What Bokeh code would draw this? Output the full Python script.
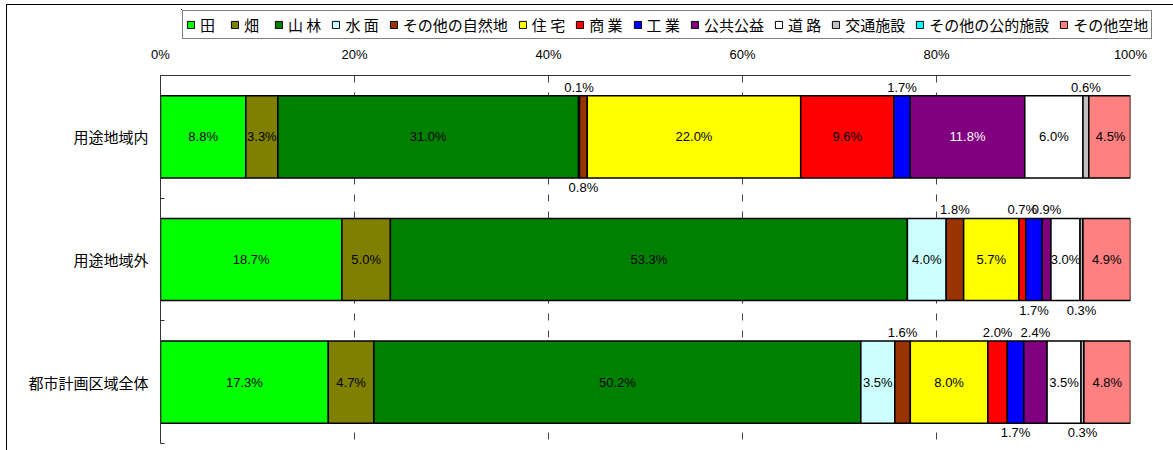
import numpy as np
from bokeh.plotting import figure
from bokeh.layouts import column
from bokeh.models import (ColumnDataSource, Range1d, FixedTicker, PrintfTickFormatter,
                          Legend, LegendItem)
from bokeh.core.properties import value
from bokeh.embed import file_html
from bokeh.resources import INLINE

# ---------------- data ----------------
rows = ["用途地域内", "用途地域外", "都市計画区域全体"]
categories = ["田", "畑", "山 林", "水 面", "その他の自然地", "住 宅", "商 業", "工 業",
              "公共公益", "道 路", "交通施設", "その他の公的施設", "その他空地"]
vals_inside = [8.8, 3.3, 31.0, 0.1, 0.8, 22.0, 9.6, 1.7, 11.8, 6.0, 0.6, 0.0, 4.5]
vals_outside = [18.7, 5.0, 53.3, 4.0, 1.8, 5.7, 0.7, 1.7, 0.9, 3.0, 0.3, 0.0, 4.9]
vals_total = [17.3, 4.7, 50.2, 3.5, 1.6, 8.0, 2.0, 1.7, 2.4, 3.5, 0.3, 0.0, 4.8]
x_ticks = [0, 20, 40, 60, 80, 100]

# ---------------- styles ----------------
colors = ["#00FF00", "#808000", "#008000", "#CCFFFF", "#993300", "#FFFF00", "#FF0000",
          "#0000FF", "#800080", "#FFFFFF", "#C0C0C0", "#00FFFF", "#FF8080"]
label_colors = ["black"] * len(categories)
label_colors[categories.index("公共公益")] = "white"
placements = [
    ["in", "in", "in", "above", "below", "in", "in", "above", "in", "in", "above", "none", "in"],
    ["in", "in", "in", "in", "above", "in", "above", "below", "above", "in", "below", "none", "in"],
    ["in", "in", "in", "in", "above", "in", "above", "below", "above", "in", "below", "none", "in"],
]
BAR_H = 0.67
NUM_FONT = "Liberation Sans"
JP_FONT = "Noto Sans CJK JP"
W = 1166

data = np.array([vals_inside, vals_outside, vals_total])
right_edges = np.cumsum(data, axis=1)
left_edges = right_edges - data
ypos = np.arange(len(rows)) + 0.5

p = figure(width=W, height=407, x_range=Range1d(0, 100), y_range=Range1d(len(rows), 0),
           x_axis_location="above", output_backend="svg", toolbar_location=None,
           min_border_left=153, min_border_right=43, min_border_top=32,
           min_border_bottom=7)
p.outline_line_color = None
p.frame_align = False

# x axis (top)
p.xaxis.ticker = FixedTicker(ticks=x_ticks)
p.xaxis.formatter = PrintfTickFormatter(format="%d%%")
p.xaxis.major_label_text_font = NUM_FONT
p.xaxis.major_label_text_font_size = "13px"
p.xaxis.major_label_text_color = "#000000"
p.xaxis.major_tick_in = 0
p.xaxis.major_tick_out = 0
p.xaxis.minor_tick_line_color = None
p.xaxis.axis_line_color = "#333333"
p.xaxis.major_label_standoff = 14

p.xgrid.ticker = FixedTicker(ticks=x_ticks)
p.xgrid.grid_line_color = "#444444"
p.xgrid.grid_line_dash = "7 10"
p.xgrid.grid_line_width = 1
p.ygrid.visible = False

# y axis (left)
p.yaxis.ticker = FixedTicker(ticks=list(ypos), minor_ticks=list(range(len(rows) + 1)))
p.yaxis.major_label_overrides = {float(y): r for y, r in zip(ypos, rows)}
p.yaxis.major_label_text_font = JP_FONT
p.yaxis.major_label_text_font_size = "15px"
p.yaxis.major_label_text_color = "#000000"
p.yaxis.major_tick_in = 0
p.yaxis.major_tick_out = 0
p.yaxis.minor_tick_in = 4
p.yaxis.minor_tick_out = 0
p.yaxis.minor_tick_line_color = "#333333"
p.yaxis.axis_line_color = "#333333"
p.yaxis.major_label_standoff = 12

# bars
for j, cat in enumerate(categories):
    src = ColumnDataSource(dict(y=ypos, left=left_edges[:, j], right=right_edges[:, j]))
    p.hbar(y="y", left="left", right="right", height=BAR_H, source=src,
           fill_color=colors[j], line_color="black", line_width=1.5)

# labels
groups = {"in": dict(x=[], y=[], t=[], c=[]),
          "above": dict(x=[], y=[], t=[], c=[]),
          "below": dict(x=[], y=[], t=[], c=[])}
for i in range(len(rows)):
    for j in range(len(categories)):
        v = data[i, j]
        pl = placements[i][j]
        if v <= 0 or pl == "none":
            continue
        g = groups[pl]
        g["x"].append((left_edges[i, j] + right_edges[i, j]) / 2)
        if pl == "in":
            g["y"].append(ypos[i])
            g["c"].append(label_colors[j])
        elif pl == "above":
            g["y"].append(ypos[i] - BAR_H / 2)
            g["c"].append("black")
        else:
            g["y"].append(ypos[i] + BAR_H / 2)
            g["c"].append("black")
        g["t"].append(f"{v:.1f}%")

baselines = {"in": ("middle", 0), "above": ("bottom", -1), "below": ("top", 2)}
for key, g in groups.items():
    bl, off = baselines[key]
    p.text(x="x", y="y", text="t", text_color="c", source=ColumnDataSource(g),
           text_align="center", text_baseline=bl, y_offset=off,
           text_font=value(NUM_FONT), text_font_size="13px")

# legend strip (separate small figure, not frame-aligned with the main one)
lf = figure(width=W, height=38, x_range=Range1d(0, 1), y_range=Range1d(0, 1),
            x_axis_type=None, y_axis_type=None, output_backend="svg", toolbar_location=None,
            min_border_left=174, min_border_right=0, min_border_top=4,
            min_border_bottom=0)
lf.outline_line_color = None
lf.grid.visible = False
lf.frame_align = False
leg_renderers = []
for j, cat in enumerate(categories):
    # swatch-only renderer, placed outside the visible range
    r = lf.hbar(y=[5], left=[0], right=[0], height=1, fill_color=colors[j],
                line_color="black", line_width=1)
    leg_renderers.append(r)
legend = Legend(items=[LegendItem(label=c, renderers=[r]) for c, r in zip(categories, leg_renderers)],
                orientation="horizontal", location="top_left")
legend.label_text_font = JP_FONT
legend.label_text_font_size = "15px"
legend.label_text_color = "#000000"
legend.glyph_width = 9
legend.glyph_height = 9
legend.label_standoff = 5
legend.spacing = 10
legend.padding = 3
legend.margin = 1
legend.label_height = 14
legend.border_line_color = "black"
legend.border_line_width = 1
legend.background_fill_color = "white"
legend.background_fill_alpha = 1
lf.add_layout(legend, "center")

layout = column(lf, p, spacing=0,
                styles={"border-top": "1px solid #000", "border-left": "1px solid #000",
                        "margin-left": "6px", "margin-top": "4px"})

open("out.html", "w").write(file_html(layout, INLINE))
